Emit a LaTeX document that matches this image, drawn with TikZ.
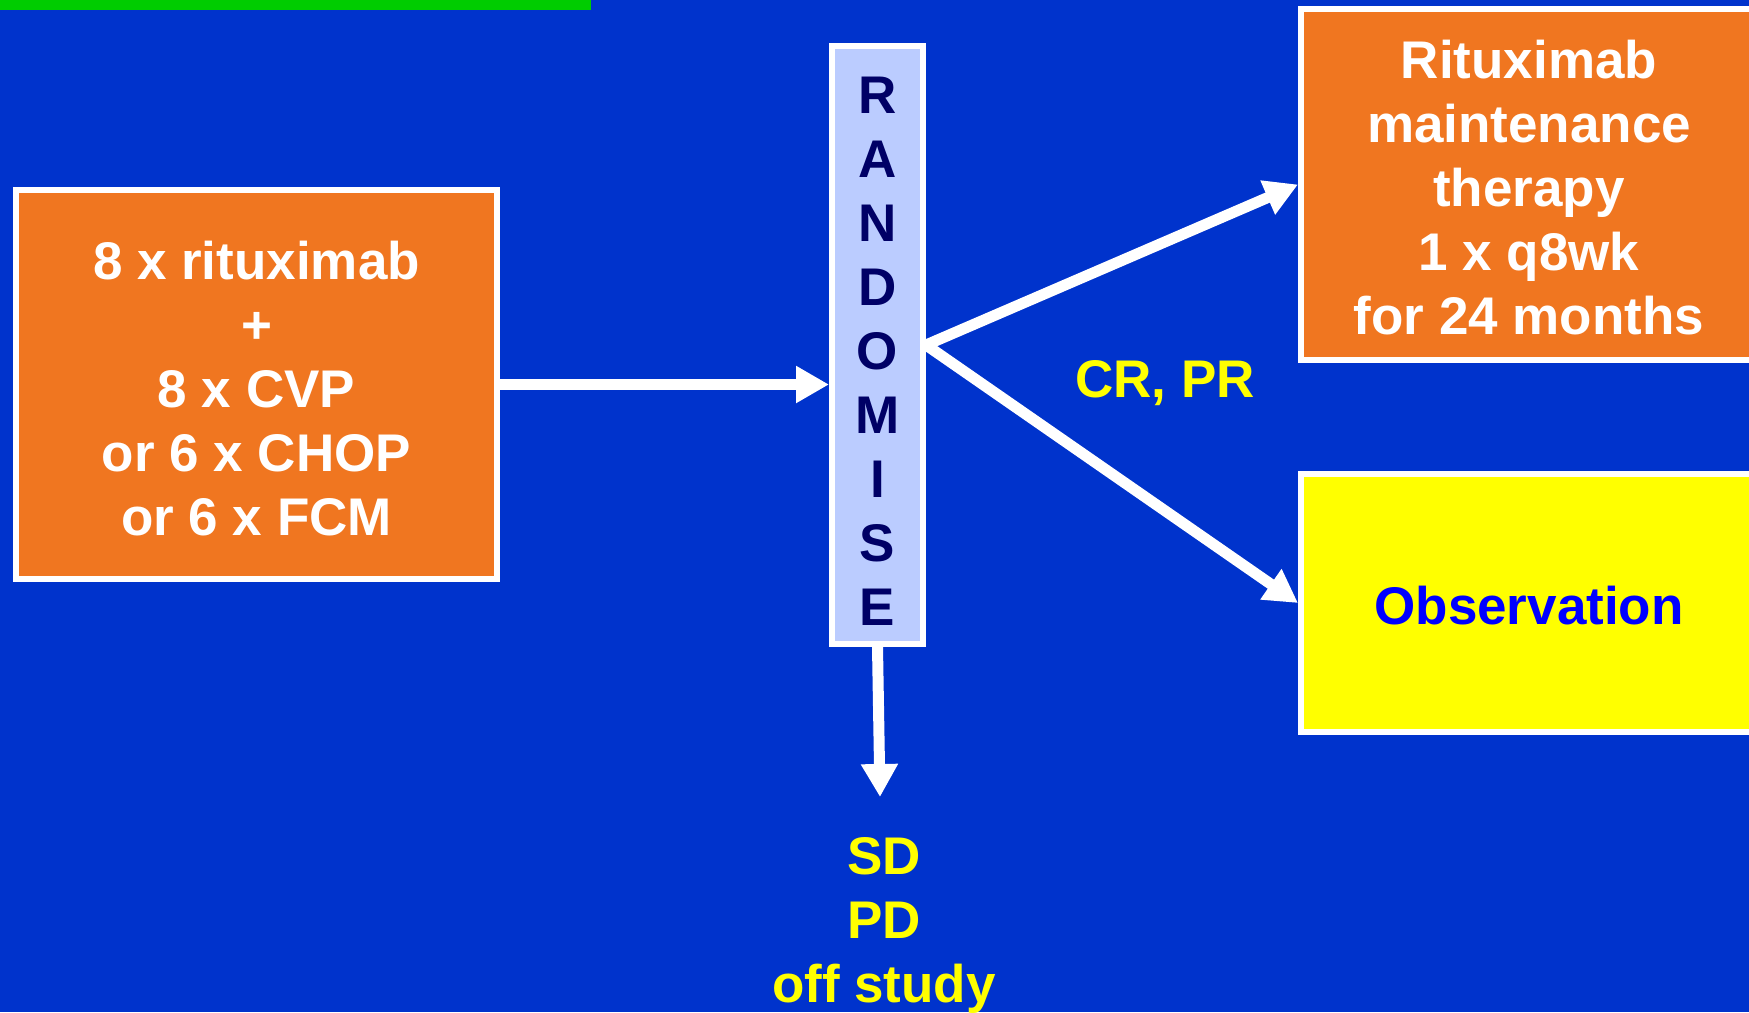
\documentclass[tikz,border=0pt]{standalone}
\usepackage{fontspec}
\setmainfont{Liberation Sans}
\usetikzlibrary{arrows.meta,calc}
\definecolor{bg}{RGB}{0,51,204}
\definecolor{orng}{RGB}{240,118,32}
\definecolor{lblue}{RGB}{187,204,255}
\definecolor{navy}{RGB}{0,0,102}
\definecolor{grn}{RGB}{0,204,0}
\definecolor{obsblue}{RGB}{0,0,255}
\definecolor{yel}{RGB}{255,255,0}
\begin{document}
\begin{tikzpicture}[x=0.5pt,y=-0.5pt,
  txt/.style={font=\fontsize{26.5}{32}\selectfont\bfseries, align=center},
  box/.style={draw=white, line width=3pt, inner sep=0pt, txt},
  arr/.style={draw=white, line width=5.5pt, -{Triangle[length=16.5pt,width=17.5pt]}}
]
\fill[bg] (0,0) rectangle (1749,1012);
\useasboundingbox (0,0) rectangle (1749,1012);
\fill[grn] (0,0) rectangle (591,10);

\node[box, fill=orng, text=white, minimum width=240.5pt, minimum height=194.5pt] (lbox) at (256.5,384.5)
  {\rule{0pt}{23pt}8 x rituximab\\+\\8 x CVP\\or 6 x CHOP\\or 6 x FCM};

\node[box, fill=lblue, text=navy, minimum width=45.5pt, minimum height=299pt] (rand) at (877.5,345)
  {\rule{0pt}{24pt}R\\A\\N\\D\\O\\M\\I\\S\\E};

\node[box, fill=orng, text=white, minimum width=228pt, minimum height=175.5pt] (tr) at (1529,184.5)
  {\rule{0pt}{22pt}Rituximab\\maintenance\\therapy\\1 x q8wk\\for 24 months};

\node[box, fill=yel, text=obsblue, minimum width=228pt, minimum height=129pt] (obs) at (1529,603)
  {\rule{0pt}{21.5pt}Observation};

\node[txt, text=yel, anchor=base] (crpr) at (1165,397) {CR, PR};
\node[txt, text=yel] (sd) at (884,925) {SD\\PD\\off study};

\coordinate (sdtip) at (880,797);
\draw[arr] (lbox.east) -- (lbox.east -| rand.west);
\draw[arr] (rand.east) -- (tr.west);
\draw[arr] (rand.east) -- (obs.west);
\draw[arr] (rand.south) -- (sdtip);
\end{tikzpicture}
\end{document}
